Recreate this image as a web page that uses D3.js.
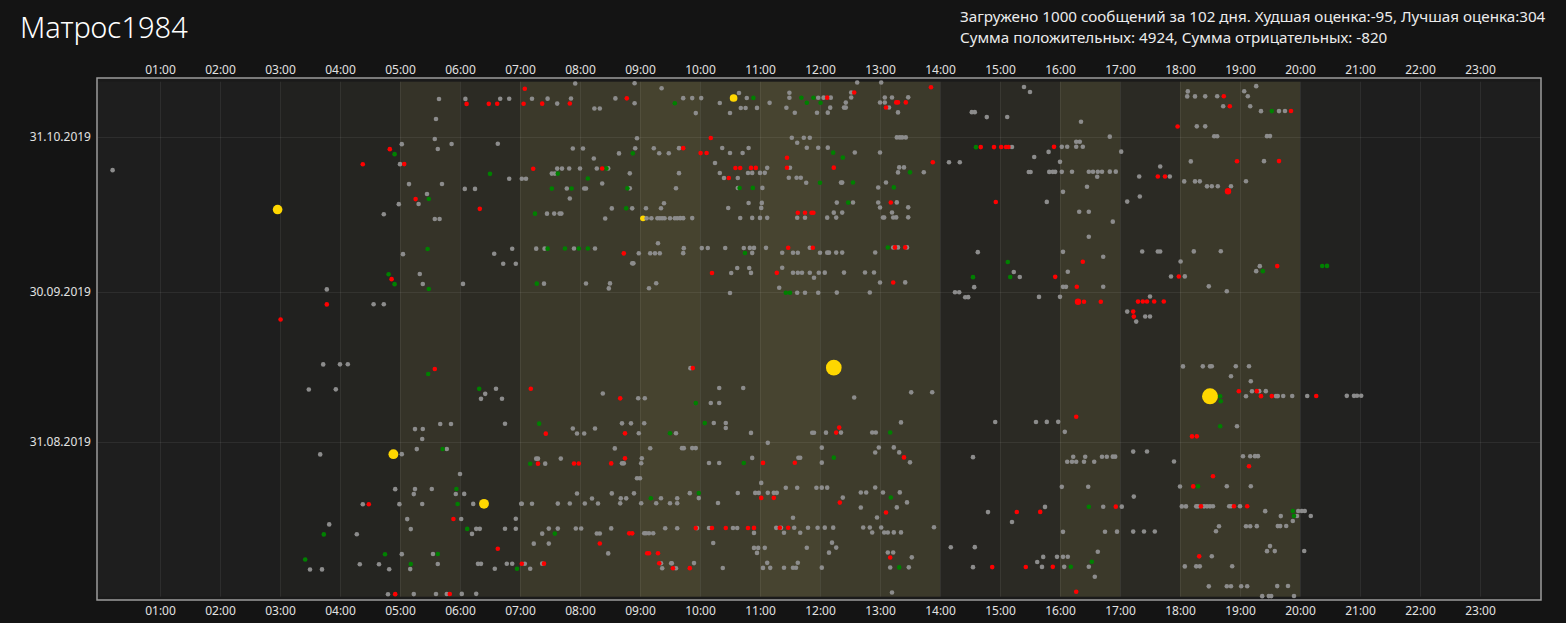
<!DOCTYPE html>
<html>
<head>
<meta charset="utf-8">
<script src="https://cdnjs.cloudflare.com/ajax/libs/d3/7.8.5/d3.min.js"></script>
<style>
  html, body { margin: 0; padding: 0; background: #141414; overflow: hidden; }
  svg { display: block; }
  text { font-family: "Segoe UI", "Noto Sans", "Open Sans", sans-serif; }
</style>
</head>
<body>
<div id="chart"></div>
<script>
var titleText = "Матрос1984";
var infoLines = [
    "Загружено 1000 сообщений за 102 дня. Худшая оценка:-95, Лучшая оценка:304",
    "Сумма положительных: 4924, Сумма отрицательных: -820"
];

var hourLabels = ["01:00", "02:00", "03:00", "04:00", "05:00", "06:00", "07:00", "08:00",
    "09:00", "10:00", "11:00", "12:00", "13:00", "14:00", "15:00", "16:00", "17:00", "18:00",
    "19:00", "20:00", "21:00", "22:00", "23:00"];
var dateTicks = ["31.08.2019", "30.09.2019", "31.10.2019"];
var dateRange = ["31.07.2019", "11.11.2019"];

// share of messages per hour of day (drives the column shading)
var hourActivity = [0, 0, 0, 0.07, 0.17, 0.55, 0.33, 0.69, 0.71, 0.95, 0.76, 0.98,
    0.76, 0.71, 0.19, 0.31, 0.69, 0.31, 0.69, 0.69, 0.1, 0, 0, 0];

// points: [days before 31.10.2019, [hours of day]]
var grayRows = [
    [7, [0.21]], [-7, [5.65]], [-3, [5.60]], [1, [5.58]], [2, [5.03, 5.86]], [3, [5.63]], [6, [5.0]],
    [10, [5.15, 5.70]], [12, [5.45]], [14, [4.98, 5.31]], [16, [4.73]], [17, [5.58, 5.66]], [24, [5.05]],
    [28, [5.33]], [30, [5.38]], [31, [3.78]], [34, [4.56, 4.73]],

    [-10, [7.92, 8.91]], [-9, [9.36]], [-8, [10.65, 11.49]],
    [-7, [6.09, 6.67, 6.82, 7.2, 7.46, 7.85, 8.59, 9.72, 9.87, 10.02, 10.78, 11.49, 11.97]],
    [-6, [7.62, 8.91, 10.33, 11.16]], [-5, [8.24, 8.33, 10.68, 10.76, 10.95, 11.44]],
    [-4, [9.93, 10.5, 11.58, 11.95]], [1, [8.95, 11.53, 11.73, 11.83]], [2, [6.63, 11.62]],
    [3, [7.88, 8.05, 8.92, 9.23, 9.65, 10.37, 10.81, 11.78, 11.97]], [4, [8.65, 9.32, 9.48, 10.5, 10.71]],
    [5, [8.23]], [6, [10.25]], [7, [7.62, 7.7, 7.82, 8.0, 8.28, 8.47, 11.12, 11.5]],
    [8, [7.53, 7.58, 8.83, 9.65, 10.33, 10.8, 10.87, 11.0, 11.08]],
    [9, [6.82, 7.03, 7.1, 10.4, 10.63, 11.48, 11.61, 11.68]], [10, [8.37, 11.77]],
    [11, [6.08, 6.25, 7.78, 8.07, 8.1, 8.83, 9.6, 10.63, 11.04]], [13, [7.83]], [14, [9.4, 10.81, 11.03]],
    [15, [8.53, 8.87, 9.1, 9.35, 10.47, 11.02]], [16, [7.45, 7.57, 7.66, 7.69]],
    [17, [8.42, 9.11, 9.19, 9.29, 9.33, 9.37, 9.41, 9.5, 9.58, 9.62, 9.67, 9.72, 9.87, 10.67, 10.87, 11.0, 11.12, 11.62, 11.75]],
    [22, [9.3]], [23, [6.87, 7.27, 7.41, 7.9, 8.25, 9.73, 10.03, 10.13, 10.42, 10.73, 10.83, 10.9, 11.1, 11.83]],
    [24, [6.57, 8.98, 9.17, 9.25, 9.33, 9.72, 10.87, 11.37, 11.55, 11.63, 12.0]], [26, [6.72, 6.93, 8.87, 8.89]],
    [27, [10.62, 10.82, 11.37]], [28, [10.52, 10.85, 11.55, 11.63, 11.7, 11.83, 11.98]], [29, [11.9]],
    [30, [6.05, 7.4, 8.1, 8.5, 9.27]], [31, [8.48, 9.15, 11.32]], [32, [10.5, 11.62, 11.75, 11.97]],

    [-10, [12.62, 13.02]], [-9, [15.4]], [-8, [12.52, 15.5]], [-7, [12.06, 12.18, 12.52, 13.08, 13.2, 13.47]],
    [-6, [12.43, 13.0, 13.08]], [-5, [12.17, 12.4, 12.43, 13.15]], [-4, [12.13, 13.3, 14.53, 14.58]],
    [-3, [14.78, 15.12]], [-2, [16.35]], [1, [13.28, 13.33, 13.37, 13.43, 16.83]], [2, [16.27, 16.33]],
    [3, [12.13, 15.2, 16.03, 16.12, 16.27, 16.38]], [4, [12.58, 13.0, 15.81, 17.02]], [5, [15.57]],
    [6, [14.15, 14.33, 16.0]], [7, [13.32, 13.4, 17.67]],
    [8, [13.3, 13.73, 15.48, 15.51, 15.82, 15.88, 15.92, 16.03, 16.2, 16.48, 16.55, 16.63, 16.7, 16.83, 16.93]],
    [9, [16.62, 17.32, 17.83]], [10, [12.35, 12.37, 13.1]], [11, [12.97, 16.45]], [12, [16.05]], [13, [17.33]],
    [14, [12.28, 12.55, 12.97, 13.28, 15.78, 17.12]], [15, [13.0, 13.47]], [16, [12.23, 12.37, 13.2, 16.32, 16.48]],
    [17, [12.12, 12.27, 13.05, 13.07, 13.22, 13.27, 13.47]], [18, [16.88]], [21, [16.48]], [23, [13.22, 13.3, 13.45]],
    [24, [12.12, 12.15, 12.27, 12.37, 12.92, 14.63, 16.05, 17.37, 17.63, 17.67]], [25, [16.72]], [26, [18.01]],
    [28, [12.08, 12.4, 12.75, 12.9, 15.23, 16.13]], [29, [15.33, 17.85]], [30, [13.0, 13.42]],
    [31, [14.57, 16.05, 16.1, 16.72]], [32, [12.28, 12.83, 14.25, 14.32]], [33, [14.42, 14.47, 15.65, 16.0, 17.5]],
    [36, [17.12]], [37, [17.42, 17.5]], [38, [17.27]],

    [-9, [19.27]], [-8, [18.13, 19.07]], [-7, [18.12, 18.25, 18.42, 18.62, 19.13]], [-5, [18.72, 19.17]],
    [-4, [19.35, 19.65, 19.75]], [-1, [18.28, 18.42]], [1, [18.57, 18.62, 19.45, 19.5]], [6, [18.18, 19.4]],
    [10, [18.07, 18.25, 18.33, 19.1]], [11, [18.45, 18.53, 18.63, 18.85]], [24, [18.23, 18.68]], [27, [19.33]],
    [28, [19.27]], [29, [18.08]], [31, [18.48]], [32, [18.78]],

    [46, [3.72, 4.0, 4.13]], [51, [3.48, 3.93]], [58, [5.67, 5.85]], [59, [5.25, 5.38]], [61, [5.37]],
    [63, [5.28, 5.78]], [64, [3.67, 5.03]], [71, [4.92, 5.25, 5.53]], [72, [5.23, 5.93]], [74, [4.38, 4.99, 5.37]],
    [77, [5.12]], [78, [3.82]], [79, [5.18]], [80, [4.28]], [84, [5.03, 5.55]], [86, [4.33, 4.65, 5.63]],
    [87, [3.5, 3.7, 4.82, 5.17]], [92, [4.8, 5.23, 5.6, 5.78]],

    [47, [9.84]], [51, [6.6, 10.32, 10.72]], [52, [6.42, 8.38]], [53, [6.35, 6.7, 8.97, 9.08]], [54, [10.18, 10.32]],
    [58, [6.75, 8.7, 8.85, 9.07, 10.23, 10.43]], [59, [7.88, 8.25, 10.43]], [60, [7.95, 8.07, 8.98, 9.6, 10.85, 11.87, 11.9]],
    [62, [11.13]], [63, [8.58, 9.17, 9.7, 9.73, 9.87, 9.93, 12.03]], [65, [7.27, 7.3, 7.68, 9.03, 10.87, 11.64, 11.67]],
    [66, [7.42, 8.7, 8.73, 9.02, 10.15, 10.32, 12.03]], [68, [6.0]], [69, [8.95, 9.0]], [70, [11.02]],
    [71, [11.43, 11.62, 11.94, 12.03]], [72, [6.07, 7.95, 8.53, 8.9, 9.83, 10.63, 10.92, 10.98, 11.13, 11.23, 11.28]],
    [73, [8.2, 8.68, 8.77, 9.35, 9.62, 9.98]],
    [74, [6.22, 7.02, 7.03, 7.2, 7.63, 7.83, 8.08, 8.3, 8.67, 9.02, 9.27, 9.5, 9.62, 10.3]], [77, [6.02, 6.93, 11.55]],
    [79, [6.27, 6.33, 6.75, 6.93, 7.48, 7.63, 7.93, 8.02, 8.52, 9.42, 9.62, 9.95, 10.15, 10.55, 10.62, 11.27, 11.35, 11.57, 11.8, 11.96]],
    [80, [6.2, 7.37, 8.28, 8.33, 9.07, 9.1, 9.15, 9.22, 10.9, 11.4, 11.67]], [82, [7.23, 7.48, 10.22]],
    [83, [10.9, 10.97, 11.08, 11.78]], [84, [8.47, 10.95]],
    [86, [6.3, 6.35, 6.78, 6.87, 7.08, 7.37, 9.35, 9.52, 9.53, 9.9, 11.12, 11.63]],
    [87, [6.58, 7.17, 9.37, 9.6, 10.38, 11.05, 11.17, 11.4, 11.55, 11.6, 12.03]], [92, [6.03, 6.27]],

    [52, [13.52, 13.87]], [53, [12.57]], [58, [13.35, 14.92, 15.6, 15.78, 15.97]], [60, [12.1, 12.35, 12.87, 12.93, 16.08]],
    [63, [12.98, 13.23]], [64, [12.92, 13.32, 17.22, 17.45]], [65, [14.55, 16.22, 16.42, 16.7, 16.78, 16.88, 16.92]],
    [66, [13.5, 16.12, 16.2, 16.27, 16.4, 16.57, 17.9]], [71, [12.12, 12.92, 16.03, 16.47, 18.0]],
    [72, [12.68, 12.77, 13.05, 13.33]], [73, [12.38, 17.23]], [74, [13.45]], [75, [12.68, 13.28, 15.75, 16.72, 17.03]],
    [76, [14.8]], [77, [12.95]], [78, [15.2]], [79, [12.08, 12.22, 12.72, 12.83, 13.02, 13.9]],
    [80, [12.87, 13.07, 13.13, 13.23, 13.35, 16.05, 16.75, 16.95, 17.22, 17.4, 17.58]], [82, [12.2]],
    [83, [12.27, 14.18, 14.58]], [84, [12.15, 13.13, 13.22, 16.63]], [85, [13.53, 15.72, 15.95, 16.05, 16.13]],
    [86, [15.62]], [87, [13.17, 13.48, 14.55, 15.7, 16.07, 16.48]], [89, [16.58]], [92, [13.2]],

    [47, [18.05, 18.38, 18.5, 18.53, 18.93, 19.15]], [49, [18.85]], [50, [19.18]], [52, [19.2, 19.32, 19.43]],
    [53, [19.1, 19.6, 19.63, 19.72, 19.87, 20.12, 20.78, 20.9, 20.95, 21.02]], [59, [18.95]],
    [65, [19.05, 19.17, 19.25, 19.3]], [71, [18.78, 19.18]],
    [75, [18.03, 18.1, 18.27, 18.3, 18.4, 18.45, 18.5, 18.55, 18.82, 18.85, 19.0]], [76, [19.42, 19.97, 20.03, 20.08]],
    [77, [19.68, 19.95, 20.18]], [78, [19.88]], [79, [18.65, 19.1, 19.17, 19.28, 19.63, 19.67, 19.77]], [80, [18.6]],
    [83, [19.5]], [84, [19.45, 19.58, 20.07]], [85, [18.53]], [87, [18.08, 18.27, 18.33, 18.87]],
    [91, [18.48, 18.78, 18.85, 19.02, 19.12, 19.62, 19.8]], [93, [19.37, 19.48, 19.52, 19.9]]
];

var redRows = [
    [3, [4.83]], [6, [4.38, 5.07]], [13, [5.26]], [29, [4.86]], [34, [3.78]], [37, [3.01]],
    [-9, [7.08]], [-7, [8.78]], [-6, [6.11, 6.48, 6.62, 7.06, 7.37, 7.83]], [1, [10.18]], [3, [9.72]], [4, [10.01, 10.11]],
    [5, [11.45]], [7, [7.22, 8.37, 10.59, 10.67, 10.85, 10.93, 11.45]], [9, [10.48]], [15, [6.33]],
    [16, [11.63, 11.75, 11.86, 11.89]], [23, [11.47, 11.88]], [24, [8.73]], [28, [10.2, 11.28]],
    [-9, [13.85]], [-8, [12.57]], [-7, [12.12]], [-6, [13.27, 13.3, 13.43]], [-5, [13.1]], [-1, [17.96]],
    [3, [14.68, 14.9, 15.02, 15.1, 15.14, 15.9]], [6, [13.88]], [7, [12.23]], [9, [17.63, 17.75]], [14, [13.18, 14.93]],
    [23, [13.25, 13.42]], [26, [16.38]], [29, [15.92, 17.98]], [30, [13.22]], [31, [16.28]],
    [34, [16.4, 16.68, 17.3, 17.38, 17.45, 17.57, 17.73]], [36, [17.22]], [37, [17.23]],
    [-7, [18.73]], [-5, [18.83]], [-4, [19.85]], [6, [18.95, 19.65]], [27, [19.62]],
    [47, [5.58]], [74, [4.48]], [77, [5.89]], [92, [4.92, 5.83]],
    [47, [9.88]], [51, [7.18]], [53, [8.67]], [60, [7.43, 8.75]], [65, [8.75]], [66, [7.3, 7.9, 7.98, 8.52, 11.05, 11.58]],
    [73, [11.02, 11.23]], [79, [9.93, 10.2, 10.43, 10.8, 10.9, 11.33, 11.47]], [80, [8.82, 8.87]], [82, [8.33]],
    [83, [6.63]], [84, [9.12, 9.15, 9.3]], [86, [7.03, 7.4, 9.32]], [87, [9.55, 9.83]],
    [57, [16.27]], [59, [12.32]], [60, [12.27]], [65, [13.4]], [74, [12.33]], [75, [16.93]], [76, [13.1, 15.28, 15.67]],
    [85, [13.17]], [87, [14.87, 15.43, 15.88]], [92, [16.27]],
    [52, [18.98, 19.28]], [53, [19.35, 19.53, 20.27]], [61, [18.2, 18.28]], [67, [19.15]], [69, [18.55]],
    [71, [18.22]], [75, [18.35, 18.9, 19.12]], [85, [18.32]]
];
// strongly negative messages, drawn a little larger
var redStrongRows = [[12, [18.8]], [34, [16.3]]];

var greenRows = [
    [4, [4.91]], [13, [5.48]], [23, [5.46]], [28, [4.81]], [30, [4.91]], [31, [5.48]],
    [-7, [10.89, 11.69, 11.89]], [-6, [9.58, 11.78, 12.01]], [4, [8.88]], [7, [8.44]], [8, [6.5, 7.63]], [9, [8.13]],
    [10, [12.0]], [11, [7.53, 7.86, 8.79, 10.66, 10.88]], [15, [8.77]], [16, [7.25]], [23, [7.46, 7.75, 7.98, 8.13]],
    [24, [10.75]], [30, [7.28]], [32, [11.43, 11.5]],
    [3, [14.6]], [4, [12.22]], [5, [12.38]], [8, [13.5]], [10, [12.55]], [11, [13.23]], [14, [12.47]], [23, [13.13]],
    [26, [15.13]], [29, [14.55, 15.17]],
    [-4, [19.53]], [27, [20.37, 20.45]], [28, [19.38]],
    [48, [5.47]], [63, [5.71]], [71, [5.94]], [74, [5.96]], [80, [3.73]], [84, [4.75, 5.63]], [85, [3.42]], [86, [5.18]],
    [51, [6.32]], [54, [9.93]], [58, [7.32, 10.08]], [60, [9.5]], [66, [7.17, 10.73]], [72, [9.98]], [73, [9.18]],
    [79, [6.12]], [80, [7.58]], [87, [6.95]],
    [60, [13.17]], [65, [12.23]], [73, [13.18]], [75, [16.48]], [86, [16.53]], [87, [16.18, 13.32]],
    [53, [18.67]], [54, [18.68]], [59, [18.67]], [71, [18.3]], [76, [19.88]], [77, [19.9]]
];

// best rated messages: [days before 31.10.2019, hour, score]
var yellowPts = [[15, 2.96, 110], [-7, 10.56, 70], [17, 9.05, 40], [64, 4.89, 115],
    [74, 6.4, 115], [47, 12.23, 290], [53, 18.5, 304]];

var width = 1566, height = 623;
var frame = { left: 97, top: 78, right: 1541, bottom: 600 };
var plotTop = 81.7, plotBottom = 596.7;
var timeShift = 7.3; // hours; rows sit this far from the date gridlines in the original

var parseDate = d3.utcParse("%d.%m.%Y");
var refDate = parseDate("31.10.2019");

var x = d3.scaleLinear().domain([0, 24]).range([100, 1540]);
var y = d3.scaleUtc()
    .domain([parseDate(dateRange[0]), parseDate(dateRange[1])])
    .range([plotBottom, plotTop]);
var shade = d3.scaleLinear().domain([0, 1]).range(["#1e1e1e", "#484530"]);
var yellowR = d3.scaleSqrt().domain([0, 304]).range([0, 8]);

function stamp(day, hour) {
    return new Date(refDate.getTime() - day * 864e5 + (hour + timeShift) * 36e5);
}

function flat(rows) {
    var out = [];
    rows.forEach(function(r) {
        r[1].forEach(function(h) { out.push({ day: r[0], hour: h }); });
    });
    return out;
}

var svg = d3.select('#chart').append('svg')
    .attr('width', width)
    .attr('height', height);

svg.append('rect')
    .attr('width', width).attr('height', height)
    .attr('fill', '#141414');

svg.append('rect')
    .attr('x', frame.left).attr('y', frame.top)
    .attr('width', frame.right - frame.left)
    .attr('height', frame.bottom - frame.top)
    .attr('fill', '#1a1a1a');

// hour columns
svg.append('g').selectAll('rect')
    .data(hourActivity)
    .enter().append('rect')
    .attr('x', function(d, i) { return i == 0 ? frame.left + 1 : x(i); })
    .attr('width', function(d, i) {
        var x0 = i == 0 ? frame.left + 1 : x(i);
        var x1 = i == 23 ? frame.right - 0.5 : x(i + 1);
        return x1 - x0;
    })
    .attr('y', plotTop)
    .attr('height', plotBottom - plotTop)
    .attr('fill', function(d) { return shade(d); });

// grid
var grid = svg.append('g')
    .attr('stroke', '#ffffff')
    .attr('stroke-opacity', 0.065)
    .attr('stroke-width', 1);

grid.selectAll('line.v')
    .data(hourLabels)
    .enter().append('line')
    .attr('class', 'v')
    .attr('x1', function(d, i) { return Math.round(x(i + 1)) + 0.5; })
    .attr('x2', function(d, i) { return Math.round(x(i + 1)) + 0.5; })
    .attr('y1', plotTop)
    .attr('y2', plotBottom);

grid.selectAll('line.h')
    .data(dateTicks)
    .enter().append('line')
    .attr('class', 'h')
    .attr('x1', frame.left + 1)
    .attr('x2', frame.right - 0.5)
    .attr('y1', function(d) { return Math.round(y(parseDate(d))) + 0.5; })
    .attr('y2', function(d) { return Math.round(y(parseDate(d))) + 0.5; });

// frame border
svg.append('rect')
    .attr('x', frame.left).attr('y', frame.top)
    .attr('width', frame.right - frame.left)
    .attr('height', frame.bottom - frame.top)
    .attr('fill', 'none')
    .attr('stroke', '#9c9c9c')
    .attr('stroke-width', 1.5);

// axes
var hourTicks = hourLabels.map(function(d, i) { return i + 1; });

var axisBottom = d3.axisBottom(x)
    .tickValues(hourTicks)
    .tickFormat(function(d) { return hourLabels[d - 1]; })
    .tickSize(0)
    .tickPadding(6.5);

var axisTop = d3.axisTop(x)
    .tickValues(hourTicks)
    .tickFormat(function(d) { return hourLabels[d - 1]; })
    .tickSize(0)
    .tickPadding(4.5);

var axisLeft = d3.axisLeft(y)
    .tickValues(dateTicks.map(parseDate))
    .tickFormat(d3.utcFormat("%d.%m.%Y"))
    .tickSize(0)
    .tickPadding(6);

function styleAxis(g) {
    g.select('.domain').remove();
    g.selectAll('text')
        .style('font-size', '12px')
        .style('font-family', '"Segoe UI", "Noto Sans", "Open Sans", sans-serif')
        .attr('fill', '#e2e2e2');
}

svg.append('g').attr('transform', 'translate(0,' + frame.bottom + ')').call(axisBottom).call(styleAxis);
svg.append('g').attr('transform', 'translate(0,' + frame.top + ')').call(axisTop).call(styleAxis);
svg.append('g').attr('transform', 'translate(' + frame.left + ',0)').call(axisLeft).call(styleAxis);

// points
var dots = svg.append('g');

dots.selectAll('circle.best')
    .data(yellowPts)
    .enter().append('circle')
    .attr('class', 'best')
    .attr('cx', function(d) { return x(d[1]); })
    .attr('cy', function(d) { return y(stamp(d[0], d[1])); })
    .attr('r', function(d) { return yellowR(d[2]); })
    .attr('fill', '#ffd700');

function drawDots(rows, cls, colour, r) {
    dots.selectAll('circle.' + cls)
        .data(flat(rows))
        .enter().append('circle')
        .attr('class', cls)
        .attr('cx', function(d) { return x(d.hour); })
        .attr('cy', function(d) { return y(stamp(d.day, d.hour)); })
        .attr('r', r)
        .attr('fill', colour);
}

drawDots(grayRows, 'neutral', '#8c8c8c', 2.3);
drawDots(greenRows, 'positive', '#008000', 2.3);
drawDots(redRows, 'negative', '#ff0000', 2.3);
drawDots(redStrongRows, 'negative-strong', '#ff0000', 3.2);

// titles
svg.append('text')
    .attr('x', 20)
    .attr('y', 38)
    .text(titleText)
    .style('font-size', '29px')
    .style('font-weight', 300)
    .attr('fill', '#ffffff');

svg.append('g').selectAll('text')
    .data(infoLines)
    .enter().append('text')
    .attr('x', 960)
    .attr('y', function(d, i) { return 22 + i * 21; })
    .text(function(d) { return d; })
    .style('font-size', '15.2px')
    .attr('fill', '#ececec');
</script>
</body>
</html>
